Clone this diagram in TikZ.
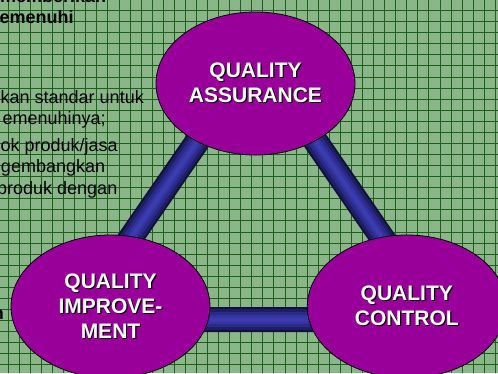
\documentclass[tikz,border=0pt]{standalone}
\usepackage{fontspec}
\setmainfont{Liberation Sans}
\usetikzlibrary{shapes.geometric}

\definecolor{bggreen}{RGB}{138,182,138}
\definecolor{gridgreen}{RGB}{28,96,28}
\definecolor{qpurple}{RGB}{153,0,153}
\definecolor{tubeA}{RGB}{16,16,58}
\definecolor{tubeB}{RGB}{30,30,100}
\definecolor{tubeC}{RGB}{42,42,136}
\definecolor{tubeD}{RGB}{52,52,160}
\definecolor{tubeE}{RGB}{60,60,176}

% white text with a dark drop shadow
\newcommand{\shad}[1]{\makebox[0pt][l]{\kern1.2pt\raisebox{-1.2pt}{\color{black}#1}}#1}

\begin{document}
\begin{tikzpicture}[x=1pt, y=-1pt,
    bubble/.style={draw=black, line width=0.8pt, ellipse, fill=qpurple,
        minimum width=199pt, minimum height=143pt, inner sep=0pt, text=white,
        font=\bfseries\fontsize{21}{25}\selectfont, align=center},
    txt/.style={anchor=base west, inner sep=0pt, font=\fontsize{18}{21}\selectfont}]
    \useasboundingbox (0,0) rectangle (498,373);
    \clip (0,0) rectangle (498,373);
    % kertas kotak-kotak
    \fill[bggreen] (0,0) rectangle (498,373);
    \foreach \i in {-1,...,45} {
        \draw[gridgreen, line width=1pt] (8.3+\i*11.07,0) -- (8.3+\i*11.07,373);
    }
    \foreach \j in {-1,...,34} {
        \draw[gridgreen, line width=1pt] (0,10.6+\j*11.07) -- (498,10.6+\j*11.07);
    }
    % teks di belakang
    \node[txt, font=\bfseries\fontsize{18}{21}\selectfont] (t0) at (0,2.2) {memberikan};
    \node[txt, font=\bfseries\fontsize{18}{21}\selectfont] (t1) at (-0.5,23.5) {emenuhi};
    \foreach \x/\y/\s [count=\i] in {0.5/103/{kan standar untuk}, 2.5/124/{emenuhinya;},
        0.5/151/{ok produk/jasa}, 0.8/172/{gembangkan}, -3/194/{produk dengan}} {
        \node[txt] (l\i) at (\x,\y) {\s};
    }
    \node[txt, font=\bfseries\fontsize{18}{21}\selectfont] (t2) at (-7.3,319) {n};
    % pipa segitiga
    \coordinate (apex) at (256.5,55.6);
    \coordinate (lbase) at (74.4,319.5);
    \coordinate (rbase) at (438.6,319.5);
    \foreach \w/\c in {25/tubeA, 21/tubeB, 15/tubeC, 9/tubeD, 4/tubeE} {
        \draw[line width=\w pt, \c] (apex) -- (lbase) -- (rbase) -- cycle;
    }
    % tiga elips
    \node[bubble] (qa) at (255.5,83.5) {\shad{QUALITY}\\\shad{ASSURANCE}};
    \node[bubble] (qi) at (110.5,306.5) {\shad{QUALITY}\\\shad{IMPROVE-}\\\shad{MENT}};
    \node[bubble] (qc) at (406.8,306.5) {\shad{QUALITY}\\\shad{CONTROL}};
\end{tikzpicture}
\end{document}
